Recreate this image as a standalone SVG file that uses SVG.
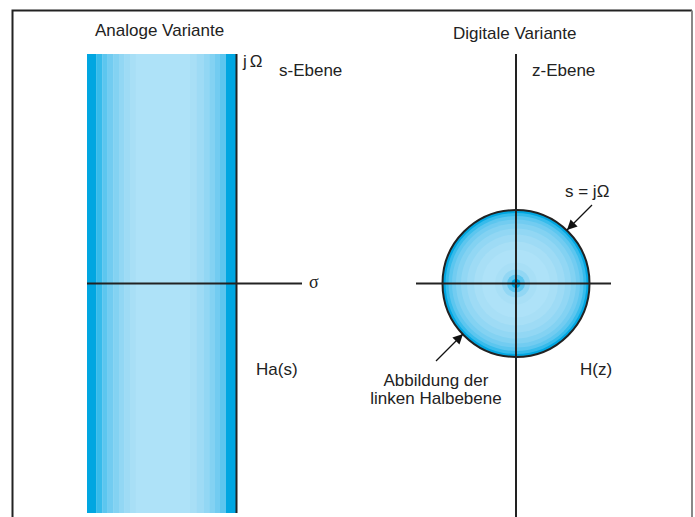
<svg xmlns="http://www.w3.org/2000/svg" width="695" height="517" viewBox="0 0 695 517">
<style>
.t{font-family:"Liberation Sans",Arial,sans-serif;font-size:17px;fill:#222}
.ax{stroke:#222;stroke-width:2;fill:none}
.c0{fill:#00a6e1}.c1{fill:#36bbeb}.c2{fill:#5cc6ef}.c3{fill:#72ccf1}.c4{fill:#83d2f2}.c5{fill:#92d7f4}.c6{fill:#9edbf5}.c7{fill:#a8dff6}.c8{fill:#aee2f8}
</style>
<defs>
<marker id="ah" viewBox="0 0 10 10" refX="10" refY="5" markerWidth="10" markerHeight="10" markerUnits="userSpaceOnUse" orient="auto">
<path d="M0,0 L10,5 L0,10 z" fill="#111"/>
</marker>
</defs>
<rect x="0" y="0" width="695" height="517" fill="#fff"/>
<g id="frame">
<path d="M12.5,517 V10.5 H692" stroke="#222" stroke-width="2" fill="none"/>
<path d="M692,10.5 V517" stroke="#888" stroke-width="2" fill="none"/>
</g>
<g id="s-plane">
<rect class="c8" x="87" y="54" width="149" height="459"/>
<rect class="c0" x="87" y="54" width="9.5" height="459"/>
<rect class="c1" x="96.5" y="54" width="5.8" height="459"/>
<rect class="c2" x="102.3" y="54" width="5.4" height="459"/>
<rect class="c3" x="107.7" y="54" width="5.6" height="459"/>
<rect class="c4" x="113.3" y="54" width="5.7" height="459"/>
<rect class="c5" x="119" y="54" width="5.3" height="459"/>
<rect class="c6" x="124.3" y="54" width="5.7" height="459"/>
<rect class="c7" x="130" y="54" width="5.7" height="459"/>
<rect class="c7" x="190" y="54" width="6.7" height="459"/>
<rect class="c6" x="196.7" y="54" width="7.3" height="459"/>
<rect class="c5" x="204" y="54" width="5.3" height="459"/>
<rect class="c4" x="209.3" y="54" width="5.7" height="459"/>
<rect class="c3" x="215" y="54" width="5" height="459"/>
<rect class="c2" x="220" y="54" width="6" height="459"/>
<rect class="c0" x="226" y="54" width="10" height="459"/>
</g>
<g id="z-plane">
<circle class="c0" cx="516" cy="283.5" r="73.5"/>
<circle class="c1" cx="516" cy="283.5" r="70.5"/>
<circle class="c2" cx="516" cy="283.5" r="67.5"/>
<circle class="c3" cx="516" cy="283.5" r="64"/>
<circle class="c4" cx="516" cy="283.5" r="60"/>
<circle class="c5" cx="516" cy="283.5" r="55"/>
<circle class="c6" cx="516" cy="283.5" r="49"/>
<circle class="c7" cx="516" cy="283.5" r="42"/>
<circle class="c8" cx="516" cy="283.5" r="34"/>
<circle class="c7" cx="516" cy="283.5" r="21"/>
<circle class="c5" cx="516" cy="283.5" r="14"/>
<circle class="c2" cx="516" cy="283.5" r="9"/>
<circle class="c0" cx="516" cy="283.5" r="4.5"/>
<circle cx="516" cy="283.5" r="73.5" fill="none" stroke="#222" stroke-width="2"/>
</g>
<g id="connectors">
<line class="ax" x1="236.5" y1="54" x2="236.5" y2="513"/>
<line class="ax" x1="87" y1="283.5" x2="302" y2="283.5"/>
<line class="ax" x1="516" y1="54" x2="516" y2="517"/>
<line class="ax" x1="416" y1="283.5" x2="611" y2="283.5"/>
<line x1="592" y1="205" x2="567" y2="230" stroke="#111" stroke-width="1.3" marker-end="url(#ah)"/>
<line x1="436" y1="361" x2="463" y2="334" stroke="#111" stroke-width="1.3" marker-end="url(#ah)"/>
</g>
<g id="labels">
<text class="t" x="95" y="36">Analoge Variante</text>
<text class="t" x="453" y="39">Digitale Variante</text>
<text class="t" x="243" y="66.5">j<tspan dx="3">Ω</tspan></text>
<text class="t" x="279" y="76">s-Ebene</text>
<text class="t" x="532" y="76">z-Ebene</text>
<text x="309" y="287.5" style="font-family:'Liberation Serif','Times New Roman',serif;font-size:18px;fill:#222">σ</text>
<text class="t" x="565" y="197">s = jΩ</text>
<text class="t" x="256" y="375">Ha(s)</text>
<text class="t" x="580" y="375">H(z)</text>
<text class="t" x="436" y="385.5" text-anchor="middle">Abbildung der</text>
<text class="t" x="436" y="404" text-anchor="middle">linken Halbebene</text>
</g>
</svg>
